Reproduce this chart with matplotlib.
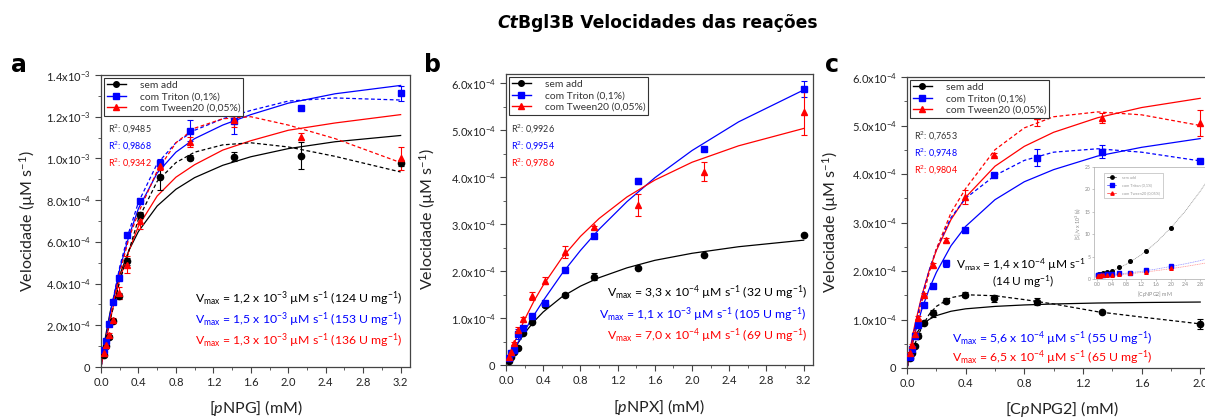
import numpy as np
import matplotlib
matplotlib.use("Agg")
import matplotlib.pyplot as plt
from matplotlib.ticker import MultipleLocator, FuncFormatter, FormatStrFormatter
from matplotlib.lines import Line2D

plt.rcParams["font.family"] = ["Lato", "DejaVu Sans"]
plt.rcParams["mathtext.fontset"] = "custom"
plt.rcParams["mathtext.rm"] = "Lato"
plt.rcParams["mathtext.it"] = "Lato:italic"
plt.rcParams["mathtext.bf"] = "Lato:bold"

FIG_W, FIG_H = 1205, 417
BLACK = "#000000"
BLUE = "#0000ff"
RED = "#ff0000"
SPINE = "#444444"
SCALE = 1e-4   # velocities below are in units of 1e-4 uM/s

# ---- panel a: pNPG ----
x_a = [0.037, 0.056, 0.083, 0.125, 0.187, 0.281, 0.421, 0.632, 0.948, 1.422, 2.133, 3.2]
a_sem = [0.59, 0.99, 1.44, 2.22, 3.42, 5.06, 7.28, 9.10, 10.04, 10.09, 10.14, 9.77]
a_sem_err = [0.05, 0.05, 0.08, 0.08, 0.15, 0.15, 0.15, 0.6, 0.12, 0.2, 0.65, 0.12]
a_tri = [0.83, 1.26, 2.06, 3.11, 4.26, 6.34, 7.98, 9.77, 11.33, 11.8, 12.44, 13.12]
a_tri_err = [0.05, 0.05, 0.05, 0.08, 0.1, 0.08, 0.1, 0.2, 0.5, 0.65, 0.05, 0.35]
a_twe = [0.67, 1.07, 1.55, 2.27, 3.54, 4.9, 7.0, 9.64, 10.8, 11.85, 11.05, 10.0]
a_twe_err = [0.05, 0.05, 0.08, 0.1, 0.3, 0.4, 0.4, 0.2, 0.25, 0.35, 0.15, 0.55]

xfit_a = [0, 0.05, 0.1, 0.2, 0.3, 0.4, 0.6, 0.8, 1.0, 1.3, 1.6, 2.0, 2.5, 3.2]
a_sem_mm = [0, 1.51, 2.68, 4.41, 5.61, 6.50, 7.72, 8.52, 9.08, 9.67, 10.08, 10.47, 10.80, 11.10]
a_sem_si = [0, 1.2, 2.3, 4.1, 5.6, 7.1, 8.9, 9.8, 10.3, 10.65, 10.75, 10.55, 10.1, 9.35]
a_tri_mm = [0, 1.3, 2.6, 4.7, 6.3, 7.6, 9.3, 10.3, 10.95, 11.6, 12.1, 12.65, 13.1, 13.5]
a_tri_si = [0, 1.3, 2.6, 4.8, 6.5, 7.9, 9.75, 10.75, 11.35, 11.9, 12.3, 12.75, 12.9, 12.8]
a_twe_mm = [0, 1.2, 2.3, 4.2, 5.6, 6.75, 8.2, 9.1, 9.7, 10.4, 10.85, 11.35, 11.7, 12.1]
a_twe_si = [0, 1.2, 2.4, 4.5, 6.2, 7.4, 9.4, 10.75, 11.45, 11.9, 12.0, 11.6, 10.95, 9.8]

# ---- panel b: pNPX ----
x_b = x_a
b_sem = [0.085, 0.18, 0.28, 0.37, 0.69, 0.92, 1.28, 1.49, 1.88, 2.07, 2.34, 2.76]
b_sem_err = [0.02, 0.02, 0.02, 0.03, 0.04, 0.03, 0.05, 0.05, 0.07, 0.02, 0.02, 0.02]
b_tri = [0.14, 0.25, 0.33, 0.66, 0.78, 1.04, 1.33, 2.02, 2.75, 3.92, 4.6, 5.88]
b_tri_err = [0.02, 0.02, 0.03, 0.1, 0.04, 0.05, 0.04, 0.03, 0.04, 0.07, 0.03, 0.18]
b_twe = [0.16, 0.28, 0.46, 0.75, 0.97, 1.47, 1.80, 2.41, 2.93, 3.41, 4.12, 5.38]
b_twe_err = [0.02, 0.03, 0.04, 0.05, 0.05, 0.09, 0.08, 0.13, 0.04, 0.23, 0.2, 0.47]

xfit_b = xfit_a
b_sem_mm = [0, 0.20, 0.38, 0.68, 0.925, 1.13, 1.45, 1.68, 1.86, 2.07, 2.23, 2.38, 2.52, 2.66]
b_tri_mm = [0, 0.19, 0.38, 0.73, 1.06, 1.37, 1.94, 2.44, 2.89, 3.48, 3.99, 4.57, 5.18, 5.86]
b_twe_mm = [0, 0.27, 0.52, 0.97, 1.36, 1.70, 2.28, 2.74, 3.12, 3.58, 3.94, 4.32, 4.67, 5.04]

# ---- panel c: CpNPG2 ----
x_c = [0.023, 0.035, 0.052, 0.078, 0.117, 0.176, 0.263, 0.395, 0.593, 0.889, 1.333, 2.0]
c_sem = [0.21, 0.31, 0.46, 0.665, 0.93, 1.13, 1.39, 1.51, 1.44, 1.37, 1.145, 0.905]
c_sem_err = [0.02, 0.02, 0.02, 0.05, 0.03, 0.07, 0.06, 0.05, 0.07, 0.07, 0.02, 0.1]
c_tri = [0.22, 0.39, 0.665, 0.89, 1.30, 1.69, 2.16, 2.85, 3.98, 4.34, 4.46, 4.27]
c_tri_err = [0.02, 0.02, 0.03, 0.03, 0.04, 0.05, 0.07, 0.04, 0.03, 0.17, 0.14, 0.03]
c_twe = [0.31, 0.48, 0.71, 1.04, 1.51, 2.13, 2.64, 3.53, 4.4, 5.19, 5.16, 5.05]
c_twe_err = [0.02, 0.02, 0.03, 0.03, 0.03, 0.04, 0.05, 0.15, 0.03, 0.2, 0.1, 0.27]

xfit_c = [0, 0.025, 0.05, 0.1, 0.15, 0.2, 0.3, 0.4, 0.6, 0.8, 1.0, 1.3, 1.6, 2.0]
c_sem_mm = [0, 0.41, 0.64, 0.875, 1.0, 1.08, 1.17, 1.22, 1.27, 1.30, 1.32, 1.34, 1.35, 1.36]
c_sem_si = [0, 0.24, 0.47, 0.84, 1.1, 1.27, 1.45, 1.51, 1.49, 1.41, 1.32, 1.16, 1.05, 0.91]
c_tri_mm = [0, 0.36, 0.67, 1.20, 1.62, 1.97, 2.52, 2.92, 3.47, 3.84, 4.09, 4.37, 4.55, 4.73]
c_tri_si = [0, 0.4, 0.78, 1.45, 2.0, 2.45, 3.1, 3.5, 3.97, 4.28, 4.45, 4.52, 4.45, 4.27]
c_twe_mm = [0, 0.45, 0.84, 1.48, 2.0, 2.42, 3.06, 3.52, 4.16, 4.57, 4.86, 5.16, 5.37, 5.56]
c_twe_si = [0, 0.35, 0.7, 1.35, 1.95, 2.45, 3.2, 3.7, 4.5, 4.95, 5.18, 5.28, 5.22, 5.0]

# ---- inset of panel c: Hanes-Woolf ([S]/v) ----
ins_sem = [0.95, 1.0, 1.05, 1.1, 1.2, 1.35, 1.5, 1.85, 2.6, 4.0, 6.3, 11.3]
ins_tri = [0.8, 0.8, 0.85, 0.85, 0.9, 0.95, 1.05, 1.2, 1.3, 1.4, 2.0, 2.95]
ins_twe = [0.6, 0.65, 0.7, 0.75, 0.8, 0.85, 0.9, 1.0, 1.1, 1.25, 1.6, 2.4]
ins_xfit = [0, 0.4, 0.8, 1.2, 1.6, 2.0, 2.4, 2.8, 3.2]
ins_sem_fit = [0.9, 1.7, 3.3, 5.4, 8.1, 11.4, 15.2, 19.6, 24.5]
ins_tri_fit = [0.8, 1.0, 1.3, 1.7, 2.2, 2.8, 3.4, 4.1, 4.9]
ins_twe_fit = [0.6, 0.8, 1.1, 1.45, 1.85, 2.3, 2.8, 3.35, 3.95]

LABELS = ["sem add", "com Triton (0,1%)", "com Tween20 (0,05%)"]
COLORS = [BLACK, BLUE, RED]
MARKERS = ["o", "s", "^"]
DASH = (0, (3, 2))


def box(l, t, r, b):
    return [l / FIG_W, 1 - b / FIG_H, (r - l) / FIG_W, (b - t) / FIG_H]


def sci_fmt(v, pos):
    if abs(v) < 1e-12:
        return "0"
    e = int(np.floor(np.log10(abs(v)) + 1e-9))
    m = v / 10 ** e
    return f"{m:.1f}x10$^{{{e}}}$"


def style_axes(ax, xmax, xmajor, ymax, ymajor):
    ax.set_xlim(0, xmax)
    ax.set_ylim(0, ymax)
    ax.xaxis.set_major_locator(MultipleLocator(xmajor))
    ax.xaxis.set_minor_locator(MultipleLocator(xmajor / 2))
    ax.yaxis.set_major_locator(MultipleLocator(ymajor))
    ax.yaxis.set_minor_locator(MultipleLocator(ymajor / 2))
    ax.xaxis.set_major_formatter(FormatStrFormatter("%.1f"))
    ax.yaxis.set_major_formatter(FuncFormatter(sci_fmt))
    ax.tick_params(which="major", length=4, width=0.8, labelsize=8,
                   colors=SPINE, labelcolor="#222222")
    ax.tick_params(which="minor", length=2, width=0.6, colors=SPINE)
    for s in ax.spines.values():
        s.set_edgecolor(SPINE)
        s.set_linewidth(0.9)


def draw_points(ax, x, ys, errs):
    for y, e, c, m in zip(ys, errs, COLORS, MARKERS):
        ax.errorbar(x, np.array(y) * SCALE, yerr=np.array(e) * SCALE, fmt=m,
                    color=c, ms=4.5 if m != "s" else 4.2, capsize=2.5,
                    elinewidth=0.8, capthick=0.8, zorder=4)


def legend(ax):
    handles = [Line2D([], [], color=c, marker=m, lw=1, ms=4)
               for c, m in zip(COLORS, MARKERS)]
    lg = ax.legend(handles, LABELS, loc="upper left", fontsize=7.4,
                   frameon=True, fancybox=False, framealpha=1,
                   edgecolor="#333333", borderpad=0.3, labelspacing=0.22,
                   handlelength=1.9, handletextpad=1.3, borderaxespad=0.25)
    lg.get_frame().set_linewidth(0.8)
    for t in lg.get_texts():
        t.set_color("#333333")


def r2_texts(ax, x, y, vals):
    for i, (v, c) in enumerate(zip(vals, ["#333333", BLUE, RED])):
        ax.text(x, y - i * 0.057, f"R$^2$: {v}", transform=ax.transAxes,
                fontsize=6.5, color=c, va="center", ha="left")


fig = plt.figure(figsize=(FIG_W / 100, FIG_H / 100), dpi=100)
fig.patch.set_facecolor("white")

# ---------------- panel a ----------------
ax = fig.add_axes(box(101, 75, 410, 367))
style_axes(ax, 3.3, 0.4, 14 * SCALE, 2 * SCALE)
for yf, c in zip([a_sem_mm, a_tri_mm, a_twe_mm], COLORS):
    ax.plot(xfit_a, np.array(yf) * SCALE, color=c, lw=0.9, zorder=2)
for yf, c in zip([a_sem_si, a_tri_si, a_twe_si], COLORS):
    ax.plot(xfit_a, np.array(yf) * SCALE, color=c, lw=0.9, ls=DASH, zorder=2)
draw_points(ax, x_a, [a_sem, a_tri, a_twe], [a_sem_err, a_tri_err, a_twe_err])
legend(ax)
r2_texts(ax, 0.023, 0.812, ["0,9485", "0,9868", "0,9342"])
vm_a = [r"V$_{\rm max}$ = 1,2 x 10$^{-3}$ µM s$^{-1}$ (124 U mg$^{-1}$)",
        r"V$_{\rm max}$ = 1,5 x 10$^{-3}$ µM s$^{-1}$ (153 U mg$^{-1}$)",
        r"V$_{\rm max}$ = 1,3 x 10$^{-3}$ µM s$^{-1}$ (136 U mg$^{-1}$)"]
for i, (t, c) in enumerate(zip(vm_a, COLORS)):
    ax.text(0.977, 0.233 - i * 0.071, t, transform=ax.transAxes, ha="right",
            va="center", fontsize=8.8, color=c)
ax.set_xlabel("[$p$NPG] (mM)", fontsize=11.5, color="#222222")
ax.set_ylabel("Velocidade (µM s$^{-1}$)", fontsize=11.5, color="#222222")
ax.xaxis.set_label_coords(0.5, -0.105)
ax.yaxis.set_label_coords(-0.205, 0.5)

# ---------------- panel b ----------------
ax = fig.add_axes(box(506, 74, 813, 365))
style_axes(ax, 3.3, 0.4, 6.2 * SCALE, 1 * SCALE)
for yf, c in zip([b_sem_mm, b_tri_mm, b_twe_mm], COLORS):
    ax.plot(xfit_b, np.array(yf) * SCALE, color=c, lw=0.9, zorder=2)
draw_points(ax, x_b, [b_sem, b_tri, b_twe], [b_sem_err, b_tri_err, b_twe_err])
legend(ax)
r2_texts(ax, 0.016, 0.808, ["0,9926", "0,9954", "0,9786"])
vm_b = [r"V$_{\rm max}$ = 3,3 x 10$^{-4}$ µM s$^{-1}$ (32 U mg$^{-1}$)",
        r"V$_{\rm max}$ = 1,1 x 10$^{-3}$ µM s$^{-1}$ (105 U mg$^{-1}$)",
        r"V$_{\rm max}$ = 7,0 x 10$^{-4}$ µM s$^{-1}$ (69 U mg$^{-1}$)"]
for i, (t, c) in enumerate(zip(vm_b, COLORS)):
    ax.text(0.98, 0.247 - i * 0.073, t, transform=ax.transAxes, ha="right",
            va="center", fontsize=8.8, color=c)
ax.set_xlabel("[$p$NPX] (mM)", fontsize=11.5, color="#222222")
ax.set_ylabel("Velocidade (µM s$^{-1}$)", fontsize=11.5, color="#222222")
ax.xaxis.set_label_coords(0.5, -0.11)
ax.yaxis.set_label_coords(-0.22, 0.5)

# ---------------- panel c ----------------
ax = fig.add_axes(box(907, 77, 1209, 368))
style_axes(ax, 2.06, 0.4, 6 * SCALE, 1 * SCALE)
for yf, c in zip([c_sem_mm, c_tri_mm, c_twe_mm], COLORS):
    ax.plot(xfit_c, np.array(yf) * SCALE, color=c, lw=0.9, zorder=2)
for yf, c in zip([c_sem_si, c_tri_si, c_twe_si], COLORS):
    ax.plot(xfit_c, np.array(yf) * SCALE, color=c, lw=0.9, ls=DASH, zorder=2)
draw_points(ax, x_c, [c_sem, c_tri, c_twe], [c_sem_err, c_tri_err, c_twe_err])
legend(ax)
r2_texts(ax, 0.023, 0.794, ["0,7653", "0,9748", "0,9804"])
ax.text(0.162, 0.354, r"V$_{\rm max}$ = 1,4 x 10$^{-4}$ µM s$^{-1}$",
        transform=ax.transAxes, ha="left", va="center", fontsize=8.6, color=BLACK)
ax.text(0.384, 0.297, r"(14 U mg$^{-1}$)", transform=ax.transAxes, ha="center",
        va="center", fontsize=8.6, color=BLACK)
ax.text(0.149, 0.1, r"V$_{\rm max}$ = 5,6 x 10$^{-4}$ µM s$^{-1}$ (55 U mg$^{-1}$)",
        transform=ax.transAxes, ha="left", va="center", fontsize=8.8, color=BLUE)
ax.text(0.149, 0.034, r"V$_{\rm max}$ = 6,5 x 10$^{-4}$ µM s$^{-1}$ (65 U mg$^{-1}$)",
        transform=ax.transAxes, ha="left", va="center", fontsize=8.8, color=RED)
ax.set_xlabel("[C$p$NPG2] (mM)", fontsize=11.5, color="#222222")
ax.set_ylabel("Velocidade (µM s$^{-1}$)", fontsize=11.5, color="#222222")
ax.xaxis.set_label_coords(0.513, -0.105)
ax.yaxis.set_label_coords(-0.22, 0.5)

# ---------------- inset ----------------
axi = fig.add_axes(box(1094, 167, 1215, 279))
axi.set_facecolor("white")
axi.set_xlim(-0.08, 3.2)
axi.set_ylim(0, 25)
axi.xaxis.set_major_locator(MultipleLocator(0.4))
axi.xaxis.set_major_formatter(FormatStrFormatter("%.1f"))
axi.yaxis.set_major_locator(MultipleLocator(5))
axi.tick_params(length=1.5, width=0.4, labelsize=3.6, colors="#999999",
                labelcolor="#888888", pad=1)
for s in axi.spines.values():
    s.set_edgecolor("#aaaaaa")
    s.set_linewidth(0.5)
for yf, c in zip([ins_sem_fit, ins_tri_fit, ins_twe_fit], ["#888888", "#8888ff", "#ff8888"]):
    axi.plot(ins_xfit, yf, color=c, lw=0.5, ls=(0, (1.5, 1)))
for y, c, m in zip([ins_sem, ins_tri, ins_twe], COLORS, MARKERS):
    axi.plot(x_c, y, ls="none", marker=m, color=c, ms=2.6)
hs = [Line2D([], [], color=c, marker=m, lw=0.4, ms=2.4) for c, m in zip(COLORS, MARKERS)]
lgi = axi.legend(hs, LABELS, loc="upper left", fontsize=2.8, frameon=True,
                 fancybox=False, framealpha=1, edgecolor="#aaaaaa",
                 borderpad=0.6, labelspacing=1.0, handlelength=2.5,
                 handletextpad=1.5, bbox_to_anchor=(0.07, 0.96))
lgi.get_frame().set_linewidth(0.4)
for t in lgi.get_texts():
    t.set_color("#999999")
axi.set_xlabel("[C$p$NPG2] mM", fontsize=3.8, color="#888888", labelpad=1)
axi.set_ylabel("[S]/v x 10$^{3}$ (s)", fontsize=3.8, color="#888888", labelpad=1)

# ---------------- title and panel letters ----------------
t1 = fig.text(497 / FIG_W, 1 - 28 / FIG_H, "Ct", fontsize=12.3, fontweight="bold",
              style="italic", va="baseline", ha="left", family="DejaVu Sans")
plt.annotate("Bgl3B Velocidades das reações", xy=(1, 0), xycoords=t1,
             va="bottom", ha="left", fontsize=12.3, fontweight="bold",
             family="DejaVu Sans", annotation_clip=False)
for lbl, xp in [("a", 19), ("b", 433), ("c", 832)]:
    fig.text(xp / FIG_W, 1 - 65 / FIG_H, lbl, fontsize=17, fontweight="bold",
             ha="center", va="center", family="DejaVu Sans")

fig.savefig("out.png", dpi=100, facecolor="white")
